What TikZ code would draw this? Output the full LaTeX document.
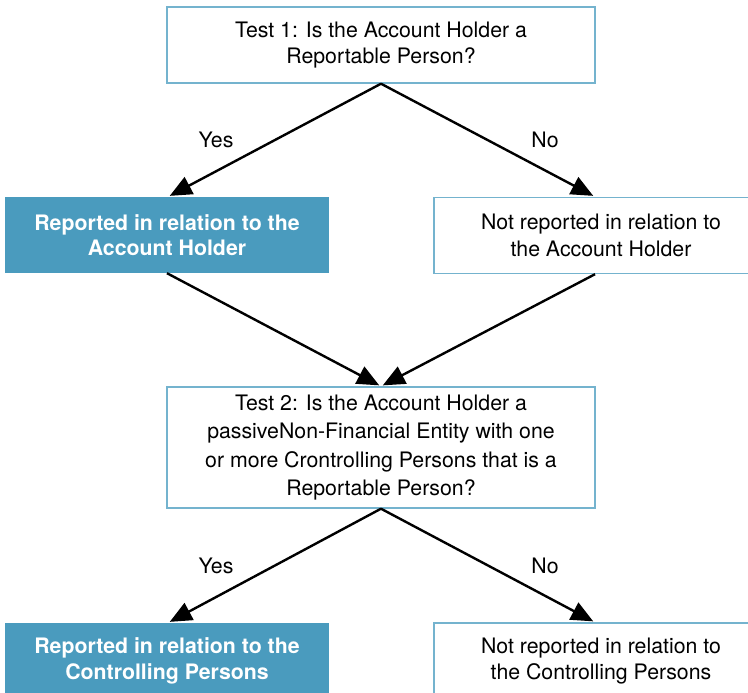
\documentclass[tikz,border=0pt]{standalone}
\usepackage{fontspec}
\setmainfont{TeX Gyre Heros}
\usetikzlibrary{arrows.meta}
\definecolor{boxblue}{HTML}{4A9BBE}
\definecolor{edgeblue}{HTML}{74B3CE}

\begin{document}
\begin{tikzpicture}[x=1pt, y=-1pt]
        \tikzstyle{every node}=[font=\fontsize{21.3}{26.5}\selectfont, align=center, inner sep=0pt]
        \tikzstyle{test}=[draw=edgeblue, line width=1.4pt, minimum width=428pt]
        \tikzstyle{yes}=[fill=boxblue, text=white, font=\fontsize{21.3}{25.5}\selectfont\bfseries, minimum width=324pt, minimum height=76pt]
        \tikzstyle{no}=[draw=edgeblue, line width=1.4pt, minimum width=334pt, minimum height=76pt]
        \tikzstyle{flow}=[line width=2.4pt, -{Triangle[length=22pt, width=19pt]}, shorten >=2pt]

        \useasboundingbox (0,0) rectangle (748,693);

        \path (381,45) node[test, minimum height=76pt] (t1)
          {Test 1: Is the Account Holder a\\Reportable Person?};
        \path (167,235) node[yes] (r1) {Reported in relation to the\\Account Holder};
        \path (601,235.5) node[no] (n1) {Not reported in relation to\\the Account Holder};

        \path (381,447.5) node[test, minimum height=121pt, font=\fontsize{21.3}{28.3}\selectfont] (t2)
          {Test 2: Is the Account Holder a\\passiveNon-Financial Entity with one\\or more Crontrolling Persons that is a\\Reportable Person?};
        \path (167,661) node[yes] (r2) {Reported in relation to the\\Controlling Persons};
        \path (601,661) node[no] (n2) {Not reported in relation to\\the Controlling Persons};

        \path (216,140) node (y1) {Yes};
        \path (545,140) node (o1) {No};
        \path (216,566) node (y2) {Yes};
        \path (545,566) node (o2) {No};

        \draw [flow]
          (t1.south) -- ([xshift=1pt]r1.north);
        \draw [flow]
          (t1.south) -- ([xshift=-6pt]n1.north);
        \draw [flow]
          (r1.south) -- (t2.north);
        \draw [flow]
          ([xshift=-6pt]n1.south) -- (t2.north);
        \draw [flow]
          (t2.south) -- ([xshift=1pt]r2.north);
        \draw [flow]
          (t2.south) -- ([xshift=-6pt]n2.north);
      \end{tikzpicture}
\end{document}
